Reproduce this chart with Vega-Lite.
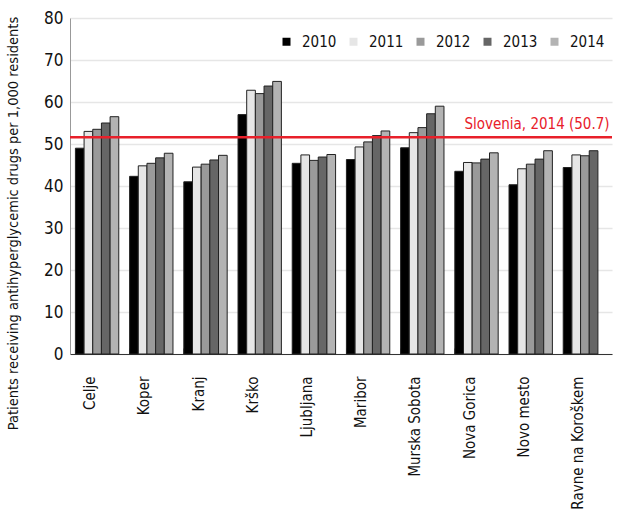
{
  "$schema": "https://vega.github.io/schema/vega-lite/v6.json",
  "width": 542,
  "height": 336,
  "autosize": "none",
  "padding": {"left": 70, "top": 18, "right": 5, "bottom": 155},
  "background": "white",
  "config": {
    "font": "Liberation Sans Narrow, DejaVu Sans Condensed, sans-serif",
    "view": {"stroke": null}
  },
  "datasets": {
    "bars": [
      {"region": "Celje", "year": "2010", "value": 49.0},
      {"region": "Celje", "year": "2011", "value": 53.0},
      {"region": "Celje", "year": "2012", "value": 53.5},
      {"region": "Celje", "year": "2013", "value": 55.0},
      {"region": "Celje", "year": "2014", "value": 56.5},
      {"region": "Koper", "year": "2010", "value": 42.3},
      {"region": "Koper", "year": "2011", "value": 44.8},
      {"region": "Koper", "year": "2012", "value": 45.4},
      {"region": "Koper", "year": "2013", "value": 46.7},
      {"region": "Koper", "year": "2014", "value": 47.8},
      {"region": "Kranj", "year": "2010", "value": 41.0},
      {"region": "Kranj", "year": "2011", "value": 44.5},
      {"region": "Kranj", "year": "2012", "value": 45.2},
      {"region": "Kranj", "year": "2013", "value": 46.2},
      {"region": "Kranj", "year": "2014", "value": 47.3},
      {"region": "Krško", "year": "2010", "value": 57.0},
      {"region": "Krško", "year": "2011", "value": 62.8},
      {"region": "Krško", "year": "2012", "value": 62.0},
      {"region": "Krško", "year": "2013", "value": 63.8},
      {"region": "Krško", "year": "2014", "value": 64.9},
      {"region": "Ljubljana", "year": "2010", "value": 45.4},
      {"region": "Ljubljana", "year": "2011", "value": 47.4},
      {"region": "Ljubljana", "year": "2012", "value": 46.1},
      {"region": "Ljubljana", "year": "2013", "value": 46.9},
      {"region": "Ljubljana", "year": "2014", "value": 47.5},
      {"region": "Maribor", "year": "2010", "value": 46.3},
      {"region": "Maribor", "year": "2011", "value": 49.3},
      {"region": "Maribor", "year": "2012", "value": 50.5},
      {"region": "Maribor", "year": "2013", "value": 52.0},
      {"region": "Maribor", "year": "2014", "value": 53.1},
      {"region": "Murska Sobota", "year": "2010", "value": 49.1},
      {"region": "Murska Sobota", "year": "2011", "value": 52.7},
      {"region": "Murska Sobota", "year": "2012", "value": 53.9},
      {"region": "Murska Sobota", "year": "2013", "value": 57.2},
      {"region": "Murska Sobota", "year": "2014", "value": 59.0},
      {"region": "Nova Gorica", "year": "2010", "value": 43.5},
      {"region": "Nova Gorica", "year": "2011", "value": 45.6},
      {"region": "Nova Gorica", "year": "2012", "value": 45.5},
      {"region": "Nova Gorica", "year": "2013", "value": 46.4},
      {"region": "Nova Gorica", "year": "2014", "value": 47.9},
      {"region": "Novo mesto", "year": "2010", "value": 40.3},
      {"region": "Novo mesto", "year": "2011", "value": 44.1},
      {"region": "Novo mesto", "year": "2012", "value": 45.2},
      {"region": "Novo mesto", "year": "2013", "value": 46.4},
      {"region": "Novo mesto", "year": "2014", "value": 48.4},
      {"region": "Ravne na Koroškem", "year": "2010", "value": 44.4},
      {"region": "Ravne na Koroškem", "year": "2011", "value": 47.4},
      {"region": "Ravne na Koroškem", "year": "2012", "value": 47.2},
      {"region": "Ravne na Koroškem", "year": "2013", "value": 48.4}
    ],
    "ref": [
      {"region": "Ravne na Koroškem", "value": 51.6, "label": "Slovenia, 2014 (50.7)"}
    ]
  },
  "layer": [
    {
      "data": {"name": "bars"},
      "mark": {"type": "bar", "stroke": "#222222", "strokeWidth": 1},
      "encoding": {
        "x": {
          "field": "region",
          "type": "nominal",
          "sort": null,
          "scale": {"paddingInner": 0.2, "paddingOuter": 0.1},
          "axis": {
            "title": null,
            "labelAngle": -90,
            "labelFontSize": 15,
            "labelColor": "#111111",
            "labelPadding": 28,
            "labelOffset": -7,
            "domainColor": "#333333",
            "tickColor": "#888888",
            "bandPosition": 0,
            "tickSize": -6,
            "grid": false
          }
        },
        "xOffset": {"field": "year", "type": "nominal", "sort": null},
        "y": {
          "field": "value",
          "type": "quantitative",
          "scale": {"domain": [0, 80], "nice": false},
          "axis": {
            "title": "Patients receiving antihyperglycemic drugs per 1,000 residents",
            "titleFontSize": 14.5,
            "titleFontWeight": "normal",
            "titleColor": "#111111",
            "titleY": 205,
            "titleX": -50,
            "values": [0, 10, 20, 30, 40, 50, 60, 70, 80],
            "labelFontSize": 17,
            "labelColor": "#111111",
            "labelPadding": 7,
            "ticks": false,
            "domainColor": "#999999",
            "gridColor": "#e6e6e6",
            "gridWidth": 1.5
          }
        },
        "color": {
          "field": "year",
          "type": "nominal",
          "scale": {
            "domain": ["2010", "2011", "2012", "2013", "2014"],
            "range": ["#000000", "#e6e6e6", "#9a9a9a", "#666666", "#b3b3b3"]
          },
          "legend": {
            "title": null,
            "orient": "none",
            "legendX": 209,
            "legendY": 16,
            "direction": "horizontal",
            "symbolType": "square",
            "symbolSize": 64,
            "symbolStrokeWidth": 0,
            "labelFontSize": 15,
            "labelColor": "#111111",
            "columnPadding": 9,
            "labelOffset": 8
          }
        }
      }
    },
    {
      "data": {"name": "ref"},
      "mark": {"type": "rule", "color": "#e8202a", "strokeWidth": 2.5},
      "encoding": {
        "y": {"field": "value", "type": "quantitative"}
      }
    },
    {
      "data": {"name": "ref"},
      "mark": {"type": "text", "color": "#e8202a", "fontSize": 15, "align": "right", "baseline": "bottom", "dy": -5, "dx": 3},
      "encoding": {
        "x": {"field": "region", "type": "nominal", "bandPosition": 1},
        "y": {"field": "value", "type": "quantitative"},
        "text": {"field": "label"}
      }
    }
  ]
}
